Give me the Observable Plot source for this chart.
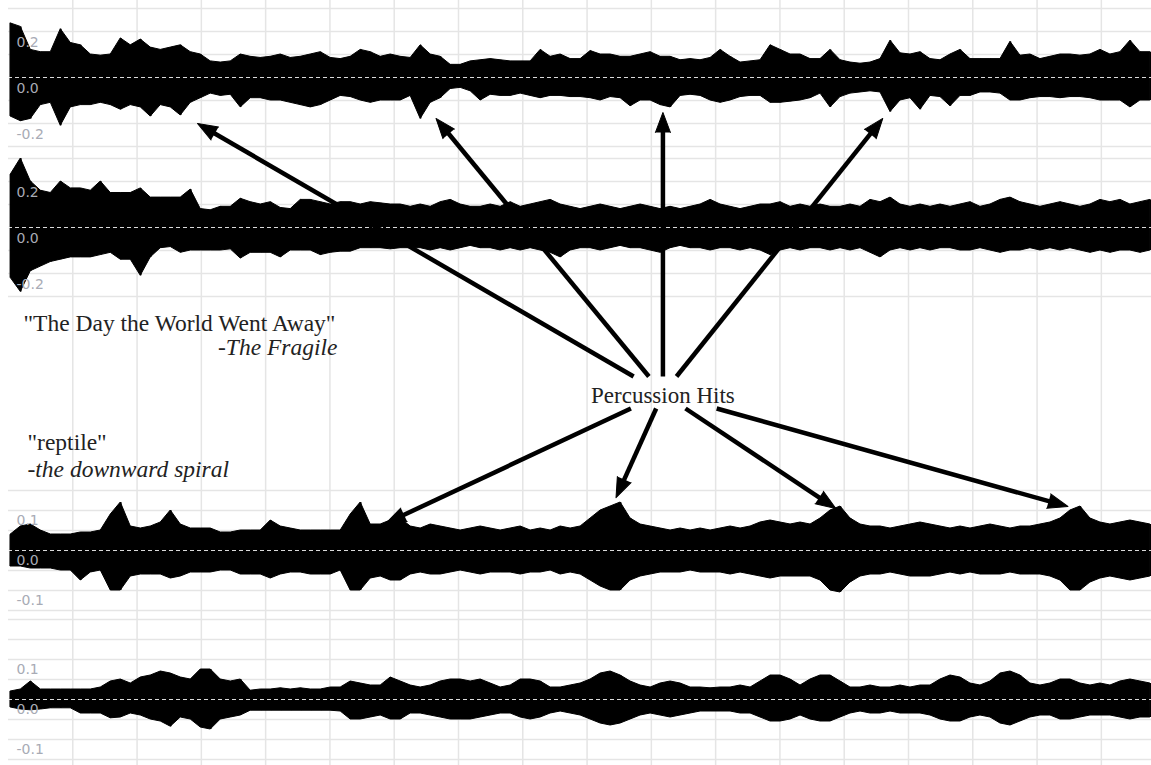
<!DOCTYPE html>
<html><head><meta charset="utf-8">
<script src="https://cdn.jsdelivr.net/npm/d3@7"></script>
<script src="https://cdn.jsdelivr.net/npm/@observablehq/plot@0.6"></script>
<style>
body{margin:0;background:#fff;}
#root{position:relative;width:1151px;height:765px;overflow:hidden;background:#fff;}
#root svg{position:absolute;left:0;}
</style></head><body><div id="root"></div>
<script>
// ---- data: waveform envelopes, one value per time bin (amplitude) ----
const firstBinTime = 0.036, binStep = 0.1555;   // seconds
const t1Hi = [0.235,0.22,0.12,0.11,0.11,0.21,0.15,0.14,0.10,0.095,0.10,0.17,0.14,0.165,0.13,0.12,0.13,0.14,0.11,0.10,0.07,0.065,0.07,0.10,0.09,0.085,0.09,0.10,0.085,0.09,0.10,0.11,0.085,0.08,0.09,0.12,0.11,0.09,0.10,0.09,
  0.085,0.14,0.10,0.09,0.055,0.055,0.07,0.075,0.08,0.075,0.07,0.07,0.07,0.12,0.09,0.10,0.08,0.08,0.115,0.10,0.10,0.09,0.09,0.10,0.11,0.09,0.09,0.075,0.08,0.075,0.085,0.12,0.09,0.065,0.07,0.075,0.14,0.12,0.10,0.10,
  0.08,0.08,0.12,0.075,0.065,0.06,0.065,0.08,0.16,0.105,0.10,0.11,0.08,0.075,0.10,0.12,0.08,0.08,0.08,0.08,0.155,0.095,0.10,0.08,0.09,0.10,0.10,0.095,0.10,0.12,0.10,0.11,0.16,0.11,0.11];
const t1Lo = [0.17,0.19,0.18,0.12,0.11,0.21,0.13,0.12,0.12,0.11,0.12,0.14,0.12,0.13,0.17,0.12,0.13,0.165,0.11,0.09,0.07,0.08,0.075,0.13,0.09,0.09,0.10,0.10,0.11,0.12,0.13,0.12,0.10,0.08,0.085,0.10,0.11,0.10,0.10,0.10,
  0.08,0.18,0.11,0.09,0.05,0.045,0.06,0.10,0.075,0.08,0.08,0.07,0.08,0.09,0.08,0.08,0.085,0.085,0.09,0.10,0.085,0.09,0.125,0.10,0.10,0.12,0.13,0.08,0.075,0.08,0.10,0.11,0.10,0.085,0.08,0.08,0.11,0.11,0.105,0.10,
  0.09,0.07,0.13,0.085,0.07,0.065,0.06,0.065,0.15,0.10,0.09,0.14,0.08,0.085,0.125,0.08,0.08,0.065,0.065,0.07,0.10,0.10,0.09,0.085,0.085,0.09,0.085,0.085,0.09,0.10,0.10,0.10,0.13,0.10,0.10];
const t2Hi = [0.23,0.30,0.20,0.16,0.15,0.20,0.17,0.17,0.16,0.20,0.15,0.15,0.15,0.17,0.13,0.13,0.13,0.13,0.165,0.08,0.075,0.09,0.09,0.125,0.11,0.10,0.11,0.085,0.08,0.12,0.12,0.11,0.10,0.11,0.11,0.10,0.11,0.105,0.10,0.10,
  0.09,0.10,0.09,0.11,0.12,0.10,0.09,0.09,0.10,0.09,0.11,0.09,0.10,0.11,0.12,0.10,0.09,0.08,0.09,0.10,0.09,0.08,0.09,0.10,0.09,0.08,0.09,0.08,0.09,0.10,
  0.12,0.10,0.09,0.08,0.09,0.10,0.10,0.11,0.09,0.10,0.09,0.10,0.09,0.09,0.10,0.09,0.12,0.11,0.13,0.10,0.09,0.10,0.09,0.10,0.09,0.10,0.11,0.09,0.10,0.12,
  0.13,0.11,0.10,0.09,0.10,0.11,0.10,0.09,0.10,0.12,0.11,0.12,0.10,0.11,0.12];
const t2Lo = [0.22,0.28,0.19,0.17,0.15,0.14,0.13,0.13,0.13,0.12,0.11,0.14,0.14,0.21,0.13,0.09,0.085,0.11,0.10,0.10,0.10,0.10,0.095,0.135,0.11,0.11,0.11,0.13,0.10,0.10,0.10,0.12,0.11,0.105,0.105,0.09,0.09,0.09,0.095,0.09,
  0.09,0.09,0.10,0.09,0.10,0.09,0.08,0.09,0.09,0.10,0.09,0.10,0.09,0.10,0.11,0.13,0.10,0.09,0.09,0.10,0.09,0.08,0.09,0.09,0.10,0.11,0.09,0.08,0.09,0.09,
  0.10,0.09,0.09,0.10,0.09,0.10,0.12,0.10,0.09,0.10,0.09,0.09,0.10,0.09,0.10,0.09,0.11,0.13,0.10,0.09,0.10,0.09,0.10,0.09,0.09,0.10,0.10,0.09,0.10,0.11,
  0.10,0.10,0.09,0.10,0.09,0.10,0.09,0.10,0.11,0.10,0.11,0.10,0.10,0.11,0.10];
const t3Hi = [0.04,0.06,0.065,0.05,0.04,0.04,0.04,0.045,0.045,0.05,0.09,0.12,0.06,0.055,0.06,0.07,0.10,0.065,0.055,0.055,0.055,0.045,0.045,0.05,0.05,0.05,0.075,0.06,0.055,0.05,0.05,0.05,0.05,0.05,0.09,0.12,0.065,0.065,0.075,0.08,
  0.06,0.055,0.065,0.06,0.055,0.05,0.055,0.06,0.055,0.05,0.055,0.06,0.05,0.055,0.05,0.06,0.055,0.06,0.08,0.10,0.11,0.12,0.08,0.065,0.06,0.055,0.05,0.055,0.05,0.055,
  0.05,0.055,0.06,0.055,0.06,0.07,0.075,0.07,0.065,0.07,0.065,0.08,0.10,0.11,0.08,0.065,0.06,0.06,0.055,0.06,0.065,0.07,0.065,0.06,0.055,0.06,0.055,0.06,0.065,0.06,
  0.055,0.06,0.06,0.065,0.07,0.08,0.10,0.11,0.08,0.07,0.065,0.07,0.075,0.07,0.065];
const t3Lo = [0.04,0.04,0.045,0.045,0.045,0.05,0.05,0.075,0.055,0.05,0.10,0.10,0.065,0.06,0.06,0.06,0.07,0.065,0.055,0.055,0.055,0.05,0.05,0.06,0.06,0.06,0.07,0.06,0.055,0.055,0.06,0.06,0.06,0.05,0.10,0.10,0.07,0.065,0.075,0.075,
  0.06,0.055,0.06,0.06,0.055,0.05,0.055,0.06,0.055,0.055,0.055,0.06,0.055,0.055,0.05,0.06,0.055,0.06,0.075,0.09,0.10,0.10,0.075,0.065,0.06,0.055,0.055,0.055,0.05,0.055,
  0.055,0.055,0.06,0.055,0.06,0.065,0.07,0.065,0.065,0.065,0.065,0.075,0.10,0.105,0.08,0.065,0.06,0.06,0.055,0.06,0.065,0.065,0.065,0.06,0.055,0.06,0.055,0.06,0.06,0.06,
  0.055,0.06,0.06,0.06,0.065,0.075,0.10,0.10,0.08,0.07,0.065,0.07,0.075,0.07,0.065];
const t4Hi = [0.02,0.025,0.045,0.025,0.025,0.025,0.025,0.025,0.025,0.03,0.045,0.05,0.04,0.055,0.06,0.07,0.065,0.055,0.05,0.075,0.075,0.05,0.045,0.05,0.022,0.025,0.025,0.028,0.025,0.028,0.025,0.025,0.03,0.03,0.045,0.04,0.035,0.035,0.055,0.045,
  0.035,0.03,0.035,0.045,0.05,0.05,0.045,0.05,0.04,0.03,0.035,0.05,0.05,0.045,0.03,0.03,0.035,0.04,0.05,0.065,0.07,0.06,0.045,0.035,0.03,0.04,0.045,0.04,0.03,0.03,
  0.028,0.03,0.03,0.035,0.03,0.045,0.06,0.06,0.05,0.035,0.05,0.06,0.06,0.045,0.03,0.03,0.035,0.03,0.03,0.035,0.03,0.035,0.035,0.05,0.06,0.055,0.04,0.035,0.045,0.065,
  0.07,0.06,0.04,0.035,0.04,0.05,0.05,0.04,0.035,0.04,0.035,0.045,0.05,0.045,0.04];
const t4Lo = [0.02,0.025,0.027,0.025,0.022,0.022,0.022,0.035,0.035,0.035,0.047,0.045,0.035,0.04,0.05,0.055,0.068,0.045,0.05,0.07,0.075,0.05,0.045,0.04,0.028,0.028,0.028,0.028,0.028,0.028,0.028,0.028,0.028,0.03,0.05,0.05,0.045,0.04,0.05,0.05,
  0.035,0.035,0.04,0.045,0.05,0.05,0.05,0.045,0.04,0.035,0.035,0.045,0.05,0.045,0.035,0.03,0.035,0.04,0.05,0.06,0.065,0.06,0.05,0.04,0.035,0.04,0.045,0.04,0.035,0.03,
  0.03,0.03,0.03,0.035,0.035,0.045,0.055,0.055,0.05,0.04,0.05,0.055,0.055,0.045,0.035,0.03,0.035,0.035,0.03,0.035,0.035,0.035,0.04,0.05,0.055,0.055,0.045,0.04,0.045,0.06,
  0.065,0.055,0.045,0.04,0.04,0.05,0.05,0.045,0.04,0.04,0.04,0.045,0.05,0.045,0.045];

// tick labels
const tickVals12 = [0.2, 0.0, -0.2], tickText12 = ["0.2", "0.0", "-0.2"];
const tickVals34 = [0.1, 0.0, -0.1], tickText34 = ["0.1", "0.0", "-0.1"];
const timeGrid = [1,2,3,4,5,6,7,8,9,10,11,12,13,14,15,16,17];

// annotation: percussion hits (track index, time, amplitude where the arrow points)
const hitTrack = [0, 0, 0, 0, 2, 2, 2, 2];
const hitTime  = [2.94, 6.65, 10.18, 13.60, 5.87, 9.45, 12.87, 16.48];
const hitAmp   = [-0.20, -0.178, -0.152, -0.178, 0.068, 0.132, 0.105, 0.11];
const hitLabel = "Percussion Hits";
const songs = ['"The Day the World Went Away"', "-The Fragile", '"reptile"', "-the downward spiral"];

// ---- layout ----
const W = 1151, H = 765;
const xDomain = [0, 17.78];
const root = document.getElementById("root");
const gridColor = "#e5e5e5";

function place(svg, top) { svg.style.position = "absolute"; svg.style.top = top + "px"; svg.style.left = "0px"; root.appendChild(svg); return svg; }
function fn(s) { return s.apply ? (v) => s.apply(v) : d3.scaleLinear(s.domain, s.range); }

// background vertical grid
place(Plot.plot({
  width: W, height: H, marginLeft: 8, marginRight: 0, marginTop: 0, marginBottom: 0,
  style: {background: "transparent"},
  x: {domain: xDomain, axis: null}, y: {axis: null},
  marks: [Plot.ruleX(timeGrid, {stroke: gridColor, strokeWidth: 1.5})]
}), 0);

const tracks = [
  {hi: t1Hi, lo: t1Lo, top: 0,   height: 150, mt: 8,  mb: 4, domain: [-0.3, 0.3],  grid: [-0.3,-0.2,-0.1,0,0.1,0.2,0.3], tv: tickVals12, tt: tickText12, dy: 11},
  {hi: t2Hi, lo: t2Lo, top: 150, height: 150, mt: 8,  mb: 4, domain: [-0.3, 0.3],  grid: [-0.3,-0.2,-0.1,0,0.1,0.2,0.3], tv: tickVals12, tt: tickText12, dy: 11},
  {hi: t3Hi, lo: t3Lo, top: 480, height: 135, mt: 10, mb: 5, domain: [-0.15, 0.15], grid: [-0.15,-0.1,-0.05,0,0.05,0.1,0.15], tv: tickVals34, tt: tickText34, dy: 10},
  {hi: t4Hi, lo: t4Lo, top: 615, height: 150, mt: 4,  mb: 6, domain: [-0.15, 0.2], grid: [-0.15,-0.1,-0.05,0,0.05,0.1,0.15,0.2], tv: tickVals34, tt: tickText34, dy: 10}
];

const scales = [];
tracks.forEach((tr) => {
  const data = tr.hi.map((h, i) => ({t: firstBinTime + i * binStep, hi: h, lo: -tr.lo[i]}));
  const labels = tr.tv.map((v, i) => ({v, s: tr.tt[i]}));
  const p = Plot.plot({
    width: W, height: tr.height, marginLeft: 8, marginRight: 0, marginTop: tr.mt, marginBottom: tr.mb,
    style: {background: "transparent", overflow: "visible"},
    x: {domain: xDomain, axis: null},
    y: {domain: tr.domain, axis: null},
    marks: [
      Plot.ruleY(tr.grid, {stroke: gridColor, strokeWidth: 1.5}),
      Plot.areaY(data, {x: "t", y1: "lo", y2: "hi", fill: "#000", stroke: "#000", strokeWidth: 1, curve: "linear"}),
      Plot.ruleX(data, {x: "t", y1: "lo", y2: "hi", stroke: "#000", strokeWidth: 1.5}),
      Plot.ruleY([0], {stroke: "#fff", strokeOpacity: 0.85, strokeDasharray: "4,3", strokeWidth: 1}),
      Plot.text(labels, {y: "v", text: "s", frameAnchor: "left", dx: 8, dy: tr.dy, textAnchor: "start",
        fill: "#a8abb5", fontSize: 14, fontFamily: "DejaVu Sans"})
    ]
  });
  place(p, tr.top);
  scales.push({x: fn(p.scale("x")), y: fn(p.scale("y")), top: tr.top});
});

// ---- overlay: arrows and texts ----
const center = {x: scales[0].x(10.18), y: 393};
const arrows = hitTime.map((t, i) => {
  const s = scales[hitTrack[i]];
  const tx = s.x(t), ty = s.top + s.y(hitAmp[i]);
  const sy = ty < center.y ? center.y - 17 : center.y + 15;
  const sx = tx + (sy - ty) * (center.x - tx) / (center.y - ty);
  const len = Math.hypot(tx - sx, ty - sy), ux = (tx - sx) / len, uy = (ty - sy) / len;
  const head = 18;
  return {sx, sy, ex: tx - ux * head * 0.8, ey: ty - uy * head * 0.8, tx, ty,
          angle: Math.atan2(ux, -uy) * 180 / Math.PI};
});

const headMark = Plot.spike
  ? Plot.vector(arrows, {x: "tx", y: "ty", rotate: "angle", length: 20, r: 7.5, anchor: "end", shape: "spike",
      fill: "#000", fillOpacity: 1, stroke: "#000", strokeWidth: 1})
  : Plot.dot(arrows, {x: "tx", y: "ty", rotate: "angle", symbol: "triangle", r: 8, fill: "#000"});

const serif = "Liberation Serif, Times New Roman, serif";
const overlay = Plot.plot({
  width: W, height: H, marginLeft: 0, marginRight: 0, marginTop: 0, marginBottom: 0,
  style: {background: "transparent", overflow: "visible"},
  x: {type: "identity"}, y: {type: "identity"},
  marks: [
    Plot.link(arrows, {x1: "sx", y1: "sy", x2: "ex", y2: "ey", stroke: "#000", strokeWidth: 4.5}),
    headMark,
    Plot.text([hitLabel], {x: center.x, y: 395, text: (d) => d, fontSize: 23, fontFamily: serif, fill: "#222", textAnchor: "middle"}),
    Plot.text([songs[0]], {x: 23, y: 323, text: (d) => d, fontSize: 23.5, fontFamily: serif, fill: "#222", textAnchor: "start"}),
    Plot.text([songs[1]], {x: 337, y: 347, text: (d) => d, fontSize: 23.5, fontFamily: serif, fontStyle: "italic", fill: "#222", textAnchor: "end"}),
    Plot.text([songs[2]], {x: 27, y: 442, text: (d) => d, fontSize: 23.5, fontFamily: serif, fill: "#222", textAnchor: "start"}),
    Plot.text([songs[3]], {x: 27, y: 469, text: (d) => d, fontSize: 23.5, fontFamily: serif, fontStyle: "italic", fill: "#222", textAnchor: "start"})
  ]
});
place(overlay, 0);
</script></body></html>
